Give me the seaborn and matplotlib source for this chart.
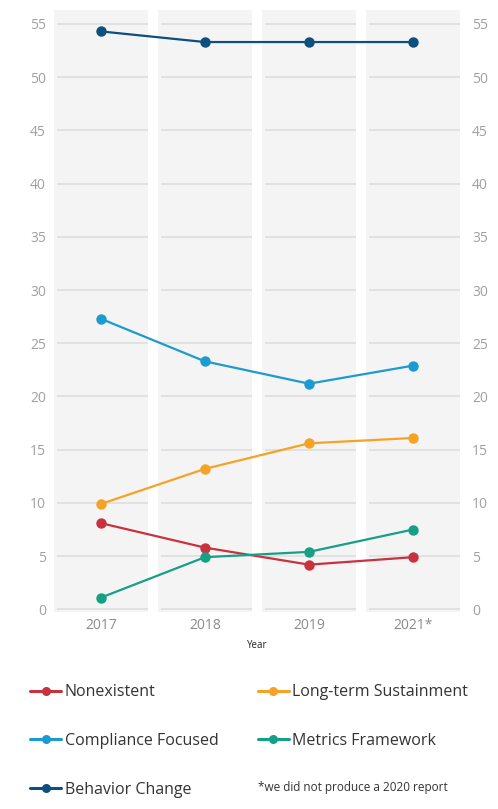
import matplotlib
matplotlib.use("Agg")
import matplotlib.pyplot as plt
from matplotlib.lines import Line2D
import seaborn as sns
import pandas as pd

years = ["2017", "2018", "2019", "2021*"]
nonexistent = [8.1, 5.8, 4.2, 4.9]
long_term = [9.9, 13.2, 15.6, 16.1]
compliance = [27.3, 23.3, 21.2, 22.9]
metrics = [1.1, 4.9, 5.4, 7.5]
behavior = [54.3, 53.3, 53.3, 53.3]
y_ticks = [0, 5, 10, 15, 20, 25, 30, 35, 40, 45, 50, 55]

series = {
    "Nonexistent": nonexistent,
    "Long-term Sustainment": long_term,
    "Compliance Focused": compliance,
    "Metrics Framework": metrics,
    "Behavior Change": behavior,
}
colors = {
    "Nonexistent": "#c8323f",
    "Long-term Sustainment": "#f4a326",
    "Compliance Focused": "#1c9bcf",
    "Metrics Framework": "#15a085",
    "Behavior Change": "#0e4f7e",
}

rows = []
for name, vals in series.items():
    for i, (yr, v) in enumerate(zip(years, vals)):
        rows.append({"Year": yr, "pos": i, "value": v, "series": name})
df = pd.DataFrame(rows)

sns.set_theme(style="white")
plt.rcParams["font.family"] = ["Open Sans", "DejaVu Sans"]

fig = plt.figure(figsize=(4.98, 8.09), dpi=100)
ax = fig.add_axes([0.1064, 0.2435, 0.8193, 0.744])

ylo, yhi = -0.25, 56.3
half = 0.45
for i in range(len(years)):
    ax.axvspan(i - half, i + half, color="#f4f4f4", zorder=0, lw=0)
    ax.hlines(y_ticks, i - half + 0.03, i + half, color="#dcdcdc", lw=1.1, zorder=1)

sns.lineplot(data=df, x="pos", y="value", hue="series", palette=colors,
             marker="o", markersize=7.5, markeredgewidth=0, linewidth=1.6,
             legend=False, ax=ax, zorder=3)

ax.set_xlim(-0.46, 3.46)
ax.set_ylim(ylo, yhi)
ax.set_xticks(range(len(years)))
ax.set_xticklabels(years)
ax.set_yticks(y_ticks)
ax.set_yticklabels([str(t) for t in y_ticks])
for s in ax.spines.values():
    s.set_visible(False)
ax.tick_params(axis="y", left=False, right=False, length=0, labelleft=True,
               labelright=False, labelsize=10, labelcolor="#a0a0a0", pad=5)
ax.tick_params(axis="x", bottom=False, length=0, labelsize=10,
               labelcolor="#8a8a8a", pad=4)
ax.set_xlabel("Year", fontsize=7, color="#222222", labelpad=5)
ax.set_ylabel("")
ax.grid(False)

ax2 = ax.twinx()
ax2.set_ylim(ylo, yhi)
ax2.set_yticks(y_ticks)
ax2.set_yticklabels([str(t) for t in y_ticks])
for s in ax2.spines.values():
    s.set_visible(False)
ax2.tick_params(axis="y", right=False, left=False, length=0, labelsize=10,
                labelcolor="#a0a0a0", pad=8)
ax2.grid(False)

order = ["Nonexistent", "Compliance Focused", "Behavior Change",
         "Long-term Sustainment", "Metrics Framework"]
handles = [Line2D([0], [0], color=colors[n], lw=2.2, marker="o", markersize=6.5,
                  markeredgewidth=0) for n in order]
fig.legend(handles, order, ncol=2, loc="upper left",
           bbox_to_anchor=(0.048, 0.162), frameon=False, fontsize=11.5,
           labelcolor="#333333", handlelength=1.95, handletextpad=0.2,
           columnspacing=2.45, labelspacing=2.05, borderaxespad=0)
fig.text(0.518, 0.027, "*we did not produce a 2020 report", fontsize=8.5,
         color="#333333", va="center")

fig.savefig("out.png", dpi=100, facecolor="white")
